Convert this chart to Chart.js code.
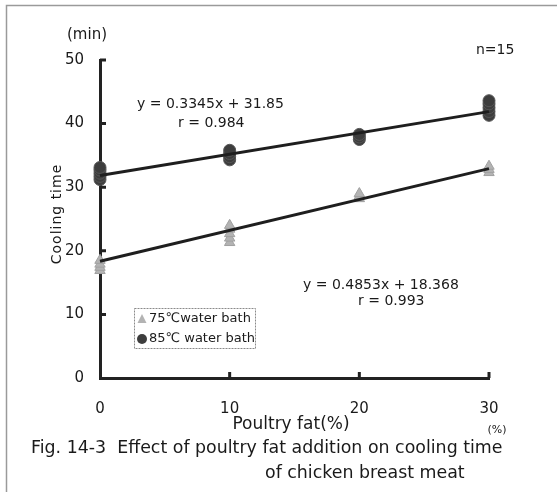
<!DOCTYPE html>
<html lang="en">
<head>
<meta charset="UTF-8" />
<title>Cooling time vs poultry fat</title>
<script src="https://cdn.jsdelivr.net/npm/chart.js@4.4.0/dist/chart.umd.min.js"></script>
<style>
  html, body { margin: 0; padding: 0; background: #fff; }
  #wrap { position: relative; width: 557px; height: 492px; }
</style>
</head>
<body>
<div id="wrap"><canvas id="coolChart" width="557" height="492"></canvas></div>
<script>
const FONT = "'DejaVu Sans', sans-serif";

const fatLevels = [0, 10, 20, 30];
const yTicks = [0, 10, 20, 30, 40, 50];

// cooling time (min) of each sample, one row per fat level
const bath75 = [
  [16.9, 17.4, 17.9, 18.5],
  [21.3, 22.0, 22.7, 23.4, 24.0],
  [28.2, 28.6, 29.0],
  [32.3, 32.8, 33.3],
];
const bath85 = [
  [31.2, 31.7, 32.2, 32.7, 33.1],
  [34.3, 34.8, 35.3, 35.8],
  [37.5, 37.9, 38.3],
  [41.3, 41.9, 42.5, 43.1, 43.6],
];

// regression results printed on the plot
const fit75 = { slope: 0.4853, intercept: 18.368, r: 0.993 };
const fit85 = { slope: 0.3345, intercept: 31.85, r: 0.984 };

function toPoints(rows) {
  const pts = [];
  rows.forEach((vals, i) => vals.forEach((v) => pts.push({ x: fatLevels[i], y: v })));
  return pts;
}

function fitLine(fit) {
  const x0 = fatLevels[0], x1 = fatLevels[fatLevels.length - 1];
  return [
    { x: x0, y: fit.intercept + fit.slope * x0 },
    { x: x1, y: fit.intercept + fit.slope * x1 },
  ];
}

const COL75 = "#b3b3b3";
const COL85 = "#3d3d3d";

// short inward tick marks plus the extra text around the plot
const figureText = {
  id: "figureText",
  afterDraw(chart) {
    const ctx = chart.ctx;
    const xs = chart.scales.x, ys = chart.scales.y;
    const left = xs.left, bottom = ys.bottom;
    ctx.save();

    ctx.strokeStyle = "#222";
    ctx.lineWidth = 3;
    ctx.beginPath();
    yTicks.slice(1).forEach((v) => {
      const py = ys.getPixelForValue(v);
      ctx.moveTo(left, py);
      ctx.lineTo(left + 6, py);
    });
    fatLevels.slice(1).forEach((v) => {
      const px = xs.getPixelForValue(v);
      ctx.moveTo(px, bottom);
      ctx.lineTo(px, bottom - 6);
    });
    ctx.stroke();

    // outer frame
    ctx.strokeStyle = "#9a9a9a";
    ctx.lineWidth = 1.5;
    ctx.beginPath();
    ctx.moveTo(6.5, 492);
    ctx.lineTo(6.5, 5.5);
    ctx.lineTo(557, 5.5);
    ctx.stroke();

    ctx.fillStyle = "#1a1a1a";
    ctx.textBaseline = "middle";
    ctx.textAlign = "left";
    ctx.font = "15px " + FONT;
    ctx.fillText("(min)", 67, 35);
    ctx.font = "14px " + FONT;
    ctx.fillText("n=15", 476, 50);

    ctx.font = "14px " + FONT;
    ctx.fillText("y = " + fit85.slope + "x + " + fit85.intercept, 137, 104);
    ctx.fillText("r = " + fit85.r, 178, 123);
    ctx.fillText("y = " + fit75.slope + "x + " + fit75.intercept, 303, 285);
    ctx.fillText("r = " + fit75.r, 358, 301);

    ctx.textAlign = "center";
    ctx.font = "17px " + FONT;
    ctx.fillText("Poultry fat(%)", 291, 425);
    ctx.font = "11px " + FONT;
    ctx.fillText("(%)", 497, 430);
    ctx.font = "17.4px " + FONT;
    ctx.textAlign = "left";
    ctx.fillText("Fig. 14-3  Effect of poultry fat addition on cooling time", 31, 448);
    ctx.fillText("of chicken breast meat", 265, 473);

    // rotated axis title
    ctx.save();
    ctx.translate(57, 214);
    ctx.rotate(-Math.PI / 2);
    ctx.textAlign = "center";
    ctx.font = "14px " + FONT;
    ctx.letterSpacing = "1px";
    ctx.fillText("Cooling time", 0, 0);
    ctx.restore();

    // legend box
    ctx.strokeStyle = "#8a8a8a";
    ctx.lineWidth = 1;
    ctx.setLineDash([2, 1]);
    ctx.strokeRect(134.5, 308.5, 121, 40);
    ctx.setLineDash([]);
    ctx.font = "13px " + FONT;
    ctx.textAlign = "left";
    ctx.fillStyle = COL75;
    ctx.beginPath();
    ctx.moveTo(142, 314);
    ctx.lineTo(146.5, 323);
    ctx.lineTo(137.5, 323);
    ctx.closePath();
    ctx.fill();
    ctx.fillStyle = COL85;
    ctx.beginPath();
    ctx.arc(142, 339, 5, 0, Math.PI * 2);
    ctx.fill();
    ctx.fillStyle = "#1a1a1a";
    ctx.fillText("75\u2103water bath", 149, 319);
    ctx.fillText("85\u2103 water bath", 149, 339);

    ctx.restore();
  },
};

new Chart(document.getElementById("coolChart"), {
  type: "scatter",
  data: {
    datasets: [
      {
        type: "line",
        label: "fit 85",
        data: fitLine(fit85),
        borderColor: "#1e1e1e",
        borderWidth: 3,
        pointRadius: 0,
        clip: false,
      },
      {
        type: "line",
        label: "fit 75",
        data: fitLine(fit75),
        borderColor: "#1e1e1e",
        borderWidth: 3,
        pointRadius: 0,
        clip: false,
      },
      {
        label: "85\u2103 water bath",
        data: toPoints(bath85),
        pointStyle: "circle",
        pointRadius: 6,
        backgroundColor: COL85,
        borderColor: "#555",
        borderWidth: 1,
        clip: false,
      },
      {
        label: "75\u2103 water bath",
        data: toPoints(bath75),
        pointStyle: "triangle",
        pointRadius: 6,
        backgroundColor: COL75,
        borderColor: "#a0a0a0",
        borderWidth: 1,
        clip: false,
      },
    ],
  },
  options: {
    responsive: false,
    animation: false,
    layout: { padding: { top: 60, right: 68, left: 0, bottom: 0 } },
    plugins: { legend: { display: false }, tooltip: { enabled: false } },
    scales: {
      x: {
        type: "linear",
        min: 0,
        max: 30,
        afterFit: (s) => { s.height = 114; },
        afterBuildTicks: (s) => { s.ticks = fatLevels.map((v) => ({ value: v })); },
        grid: { display: false, drawTicks: false },
        border: { color: "#222", width: 3 },
        ticks: { color: "#1a1a1a", padding: 22, font: { family: FONT, size: 15 } },
      },
      y: {
        min: 0,
        max: 50,
        afterFit: (s) => { s.width = 100; },
        afterBuildTicks: (s) => { s.ticks = yTicks.map((v) => ({ value: v })); },
        grid: { display: false, drawTicks: false },
        border: { color: "#222", width: 3 },
        ticks: { color: "#1a1a1a", padding: 16, font: { family: FONT, size: 15 } },
      },
    },
  },
  plugins: [figureText],
});
</script>
</body>
</html>
